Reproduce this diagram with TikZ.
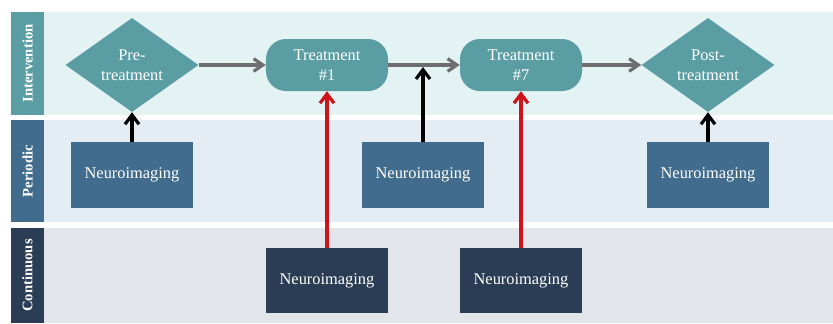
\documentclass[tikz,border=0pt]{standalone}
\usepackage{fontspec}
\setmainfont{Liberation Serif}
\usetikzlibrary{shapes.geometric,arrows.meta}
\definecolor{teal1}{RGB}{90,158,164}
\definecolor{blue1}{RGB}{65,108,141}
\definecolor{navy1}{RGB}{42,61,85}
\definecolor{lane1}{RGB}{227,242,243}
\definecolor{lane2}{RGB}{227,237,243}
\definecolor{lane3}{RGB}{226,230,234}
\definecolor{arrgray}{RGB}{110,110,110}
\definecolor{arrred}{RGB}{208,18,27}
\begin{document}
\begin{tikzpicture}[x=0.03cm,y=-0.03cm,
    txt/.style={text=white,align=center,font=\fontsize{14}{17}\selectfont},
    lanelabel/.style={fill=#1,text=white,rotate=90,minimum height=0.99cm,
        inner sep=0pt,font=\fontsize{12.5}{14}\selectfont\bfseries},
    diam/.style={txt,diamond,fill=teal1,inner sep=0pt,minimum width=3.99cm,minimum height=2.82cm},
    pill/.style={txt,fill=teal1,rounded corners=0.6cm,minimum width=3.66cm,minimum height=1.56cm},
    imgbox/.style={txt,fill=#1,minimum width=3.66cm,minimum height=1.98cm},
    flow/.style={line width=2.7pt,arrgray,-{Straight Barb[length=2.8mm,width=3.8mm]}},
    up/.style={line width=2.7pt,#1,-{Straight Barb[length=2.8mm,width=4.2mm]}}]
\useasboundingbox (0,0) rectangle (833,323);
% lanes
\fill[lane1] (44,12) rectangle (833,115);
\fill[lane2] (44,120) rectangle (833,222);
\fill[lane3] (44,228) rectangle (833,323);
\node[lanelabel=teal1,minimum width=3.09cm] (lint) at (27.5,63.5) {Intervention};
\node[lanelabel=blue1,minimum width=3.06cm] (lper) at (27.5,171) {Periodic};
\node[lanelabel=navy1,minimum width=2.85cm] (lcon) at (27.5,275.5) {Continuous};
% intervention
\node[diam] (pre) at (132,65) {Pre-\\treatment};
\node[pill] (t1) at (327,65) {Treatment\\\#1};
\node[pill] (t7) at (521,65) {Treatment\\\#7};
\node[diam] (post) at (708,65) {Post-\\treatment};
% periodic
\node[imgbox=blue1] (p1) at (132,175) {Neuroimaging};
\node[imgbox=blue1] (p2) at (423,175) {Neuroimaging};
\node[imgbox=blue1] (p3) at (708,175) {Neuroimaging};
% continuous
\node[imgbox=navy1,minimum height=1.95cm] (c1) at (327,280.5) {Neuroimaging};
\node[imgbox=navy1,minimum height=1.95cm] (c2) at (521,280.5) {Neuroimaging};
\coordinate (mid) at (423,67);
\draw[flow] (pre) -- (t1);
\draw[flow] (t1) -- (t7);
\draw[flow] (t7) -- (post);
\draw[up=black] (p1) -- (pre);
\draw[up=black] (p2) -- (mid);
\draw[up=black] (p3) -- (post);
\draw[up=arrred] (c1) -- (t1);
\draw[up=arrred] (c2) -- (t7);
\end{tikzpicture}
\end{document}
